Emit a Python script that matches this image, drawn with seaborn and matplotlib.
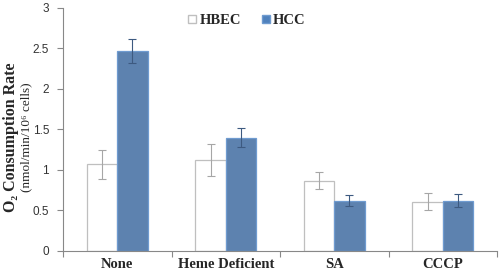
import pandas as pd
import numpy as np
import matplotlib
matplotlib.use('Agg')
import matplotlib.pyplot as plt
import seaborn as sns

# Data
conditions = ['None', 'Heme Deficient', 'SA', 'CCCP']
cell_lines = ['HBEC', 'HCC']
hbec_rate = [1.07, 1.12, 0.87, 0.61]
hcc_rate = [2.47, 1.40, 0.62, 0.62]
hbec_err = [0.18, 0.20, 0.10, 0.10]
hcc_err = [0.15, 0.12, 0.07, 0.08]
yticks = [0, 0.5, 1, 1.5, 2, 2.5, 3]

df = pd.DataFrame({
    'condition': conditions * 2,
    'cell': ['HBEC'] * 4 + ['HCC'] * 4,
    'rate': hbec_rate + hcc_rate,
    'err': hbec_err + hcc_err,
})

sns.set_style('white')
serif = ['Liberation Serif', 'DejaVu Serif']

fig = plt.figure(figsize=(5, 2.74), dpi=100)
ax = fig.add_axes([0.126, 0.084, 0.868, 0.887])

palette = {'HBEC': '#ffffff', 'HCC': '#4f81bd'}
sns.barplot(data=df, x='condition', y='rate', hue='cell', order=conditions,
            hue_order=cell_lines, palette=palette, width=0.56, gap=0,
            errorbar=None, legend=False, ax=ax)

# style bars and add error bars from bar geometry
edge = {'HBEC': '#bfbfbf', 'HCC': '#6f9bd0'}
ecol = {'HBEC': '#a6a6a6', 'HCC': '#3d5a80'}
for cont, cell in zip(ax.containers, cell_lines):
    sub = df[df['cell'] == cell].set_index('condition').loc[conditions]
    xs = []
    for p in cont.patches:
        p.set_edgecolor(edge[cell])
        p.set_linewidth(0.9)
        xs.append(p.get_x() + p.get_width() / 2)
    ax.errorbar(xs, sub['rate'].values, yerr=sub['err'].values, fmt='none',
                ecolor=ecol[cell], elinewidth=0.8, capsize=3, capthick=0.8)

ax.set_ylim(0, 3)
ax.set_xlim(-0.5, 3.5)
ax.set_yticks(yticks)
ax.set_yticklabels([f'{t:g}' for t in yticks], fontsize=8.5,
                   family='Liberation Sans', color='#333333')
ax.set_xticks(range(len(conditions)))
ax.set_xticklabels(conditions, fontsize=10.5, family=serif,
                   fontweight='bold')
ax.set_xticks([-0.5, 0.5, 1.5, 2.5, 3.5], minor=True)
ax.tick_params(axis='x', which='major', length=0, pad=5)
ax.tick_params(axis='x', which='minor', length=4, color='#888888', width=0.8,
               direction='out', bottom=True)
ax.tick_params(axis='y', length=4, color='#888888', width=0.8,
               direction='out', left=True, pad=6)
ax.set_xlabel('')
ax.set_ylabel('')
for s in ['top', 'right']:
    ax.spines[s].set_visible(False)
for s in ['left', 'bottom']:
    ax.spines[s].set_color('#888888')
    ax.spines[s].set_linewidth(0.8)

# two-line y label
fig.text(0.022, 0.50, 'O\u2082 Consumption Rate', rotation=90,
         ha='center', va='center', fontsize=11.5, fontweight='bold',
         family=serif)
fig.text(0.053, 0.50, '(nmol/min/10\u2076 cells)', rotation=90,
         ha='center', va='center', fontsize=9.5, family=serif)

# legend
handles = [plt.Line2D([], [], marker='s', linestyle='', markersize=6,
                      markerfacecolor=palette[c], markeredgecolor=edge[c])
           for c in cell_lines]
ax.legend(handles, cell_lines, loc='upper center', bbox_to_anchor=(0.42, 1.03),
          ncol=2, frameon=False, handletextpad=0.0, columnspacing=1.2,
          handlelength=1.0,
          prop={'family': 'Liberation Serif', 'weight': 'bold', 'size': 10.5})

fig.savefig('out.png', dpi=100)
